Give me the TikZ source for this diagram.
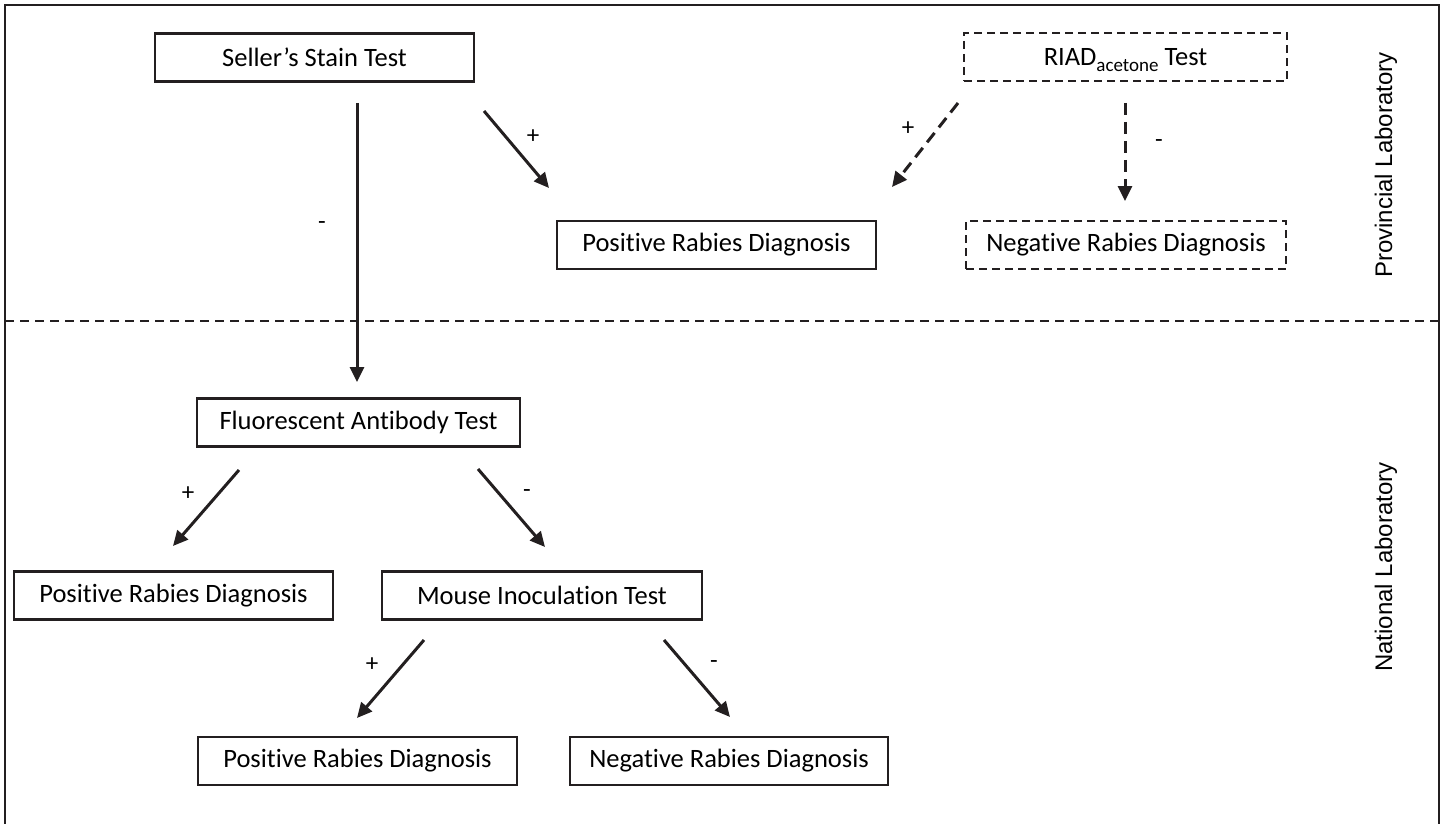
\documentclass[tikz,border=0pt]{standalone}
\usepackage{fontspec}
\setmainfont{Carlito}[Ligatures={NoCommon,NoRare,NoContextual}]
\newfontfamily\sidefont{Liberation Sans}
\usetikzlibrary{arrows.meta,calc}
\definecolor{ink}{HTML}{231F20}
\newcommand{\tiSep}{t\kern0pt i}
\begin{document}
\begin{tikzpicture}[x=1pt,y=-1pt,
  box/.style={draw=ink,line width=2.2pt,inner sep=0pt,minimum width=319pt,minimum height=48pt,font=\fontsize{26.5}{30}\selectfont,text=black},
  dbox/.style={box,dash pattern=on 8pt off 5pt},
  arr/.style={draw=ink,line width=3pt,-{Triangle[length=15pt,width=14pt]}},
  darr/.style={arr,dash pattern=on 12pt off 7pt},
  lab/.style={inner sep=0pt,font=\fontsize{25}{26}\selectfont,text=black},
  side/.style={inner sep=0pt,rotate=90,font=\sidefont\fontsize{24}{26}\selectfont,text=black}]
\useasboundingbox (0,0) rectangle (1443,824);
% frame
\coordinate (fbl) at (5,826);
\coordinate (ftl) at (5,5);
\coordinate (ftr) at (1439,5);
\coordinate (fbr) at (1439,826);
\draw[ink,line width=2.6pt] (fbl) -- (ftl) -- (ftr) -- (fbr);
% divider
\coordinate (dl) at (5,321);
\coordinate (dr) at (1439,321);
\draw[ink,line width=2pt,dash pattern=on 9pt off 6pt] (dl) -- (dr);
% nodes
\node[box] (ss) at (314.5,57.5) {Seller’s Stain Test};
\node[dbox,minimum width=323pt] (riad) at (1125.5,57) {RIAD\smash{\raisebox{-6pt}{\fontsize{19}{20}\selectfont acetone}} Test};
\node[box] (pos1) at (716.5,245) {Posi\tiSep ve Rabies Diagnosis};
\node[dbox,minimum width=320pt] (neg1) at (1126,245) {Negative Rabies Diagnosis};
\node[box,minimum width=323pt] (fat) at (358.5,422.5) {Fluorescent An\tiSep body Test};
\node[box] (pos2) at (173.5,595.5) {Posi\tiSep ve Rabies Diagnosis};
\node[box,minimum width=320pt] (mit) at (542,595.5) {Mouse Inocula\tiSep on Test};
\node[box] (pos3) at (357.5,761) {Posi\tiSep ve Rabies Diagnosis};
\node[box,minimum width=318pt] (neg3) at (729,761) {Negative Rabies Diagnosis};
% side labels
\node[side] (prov) at (1386,165) {Provincial Laboratory};
\node[side] (nat) at (1386,567) {National Laboratory};
% arrow endpoints
\coordinate (a1s) at (357,103);  \coordinate (a1e) at (357,382);
\coordinate (a2s) at (484,111);  \coordinate (a2e) at (549,188);
\coordinate (a3s) at (958,103);  \coordinate (a3e) at (892,187);
\coordinate (a4s) at (1125,103); \coordinate (a4e) at (1125,201);
\coordinate (a5s) at (239,470);  \coordinate (a5e) at (173,546);
\coordinate (a6s) at (478,469);  \coordinate (a6e) at (545,547);
\coordinate (a7s) at (424,640);  \coordinate (a7e) at (357,718);
\coordinate (a8s) at (664,640);  \coordinate (a8e) at (730,717);
\draw[arr] (a1s) -- (a1e);
\draw[arr] (a2s) -- (a2e);
\draw[darr] (a3s) -- (a3e);
\draw[darr] (a4s) -- (a4e);
\draw[arr] (a5s) -- (a5e);
\draw[arr] (a6s) -- (a6e);
\draw[arr] (a7s) -- (a7e);
\draw[arr] (a8s) -- (a8e);
% labels
\node[lab] (l1) at (322,226) {-};
\node[lab] (l2) at (533,137) {+};
\node[lab] (l3) at (908,129) {+};
\node[lab] (l4) at (1159,144) {-};
\node[lab] (l5) at (188,494) {+};
\node[lab] (l6) at (527,494) {-};
\node[lab] (l7) at (372,665) {+};
\node[lab] (l8) at (714,665) {-};
\end{tikzpicture}
\end{document}
